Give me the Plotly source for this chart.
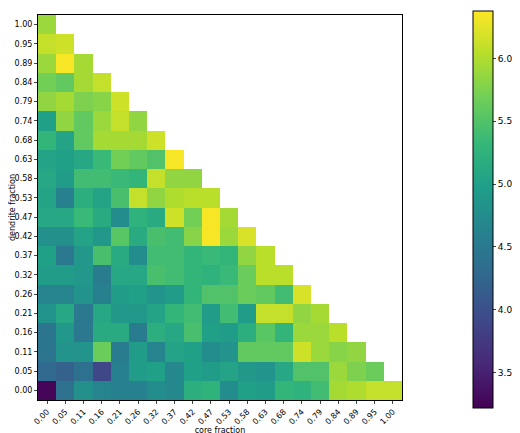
import plotly.graph_objects as go

labels = ["0.00","0.05","0.11","0.16","0.21","0.26","0.32","0.37","0.42","0.47",
          "0.53","0.58","0.63","0.68","0.74","0.79","0.84","0.89","0.95","1.00"]

# rows from dendrite fraction 0.00 upward; each row lists core fraction 0.00...
row_000 = [3.25,4.4,4.8,4.65,4.6,4.6,4.75,4.7,5.2,5.25,4.75,5.0,4.95,5.3,5.25,5.4,5.95,6.0,6.1,6.1]
row_005 = [4.3,4.2,4.4,3.9,4.6,4.95,5.0,4.7,5.0,4.95,5.05,4.9,4.85,5.1,5.5,5.5,5.9,5.75,5.65]
row_011 = [4.45,4.85,4.85,5.65,4.55,4.95,4.65,5.05,5.0,4.75,4.85,5.6,5.6,5.6,6.15,5.9,5.8,5.85]
row_016 = [4.45,4.9,4.5,5.15,5.15,4.55,5.2,5.1,5.45,5.0,4.95,5.2,5.55,5.3,5.9,5.9,6.05]
row_021 = [4.85,5.1,4.5,5.1,4.9,4.9,5.05,5.3,5.4,4.95,5.4,4.95,6.1,6.1,5.85,5.95]
row_026 = [4.65,4.65,4.85,4.6,4.95,5.0,4.85,4.95,5.3,5.5,5.5,5.65,5.6,5.4,6.2]
row_032 = [4.95,4.95,4.9,4.55,5.1,5.1,5.45,5.4,5.3,5.25,5.35,5.65,6.05,6.05]
row_037 = [5.0,4.5,4.9,5.45,5.15,4.75,5.4,5.4,5.3,5.35,5.3,5.85,6.05]
row_042 = [4.8,4.8,5.05,4.9,5.55,5.15,5.45,5.4,5.8,6.35,5.9,6.2]
row_047 = [5.1,5.1,5.35,5.15,4.75,5.25,5.15,6.15,5.7,6.35,5.95]
row_053 = [5.05,4.6,5.2,5.05,5.45,6.1,5.85,6.0,6.05,6.05]
row_058 = [5.1,4.95,5.4,5.4,5.35,5.3,6.1,5.85,5.85]
row_063 = [5.05,5.0,5.1,5.35,5.7,5.6,5.5,6.35]
row_068 = [5.3,5.05,5.6,5.95,5.95,5.95,6.15]
row_074 = [5.0,5.85,5.6,5.9,6.1,5.85]
row_079 = [5.85,5.95,5.75,5.8,6.15]
row_084 = [5.7,5.6,5.95,6.1]
row_089 = [5.9,6.35,5.95]
row_095 = [6.1,6.15]
row_100 = [5.9]

rows = [row_000,row_005,row_011,row_016,row_021,row_026,row_032,row_037,row_042,row_047,
        row_053,row_058,row_063,row_068,row_074,row_079,row_084,row_089,row_095,row_100]
z = [r + [None]*(20-len(r)) for r in rows]

fig = go.Figure(go.Heatmap(
    z=z, x=labels, y=labels, colorscale="Viridis", zmin=3.22, zmax=6.38,
    colorbar=dict(title=dict(text="forecast_horizon λt", side="right", font=dict(size=9)),
                  x=1.196, xanchor="left", y=-0.02, yanchor="bottom", len=1.03, lenmode="fraction",
                  ypad=0, xpad=0,
                  thickness=20, outlinewidth=1, outlinecolor="black",
                  tickvals=[3.5,4.0,4.5,5.0,5.5,6.0], ticktext=["3.5","4.0","4.5","5.0","5.5","6.0"],
                  ticks="outside", ticklen=3, tickfont=dict(size=9))))

fig.update_layout(
    width=520, height=433, margin=dict(l=30, r=122, t=3, b=41),
    plot_bgcolor="white", paper_bgcolor="white",
    font=dict(family="DejaVu Sans", color="black", size=8),
    xaxis=dict(title=dict(text="core fraction", font=dict(size=8), standoff=0), tickangle=-45,
               showline=True, mirror=True, linecolor="black", ticks="outside", ticklen=3,
               showgrid=False, type="category", automargin=False),
    yaxis=dict(title=dict(text="dendrite fraction", font=dict(size=8), standoff=0),
               showline=True, mirror=True, linecolor="black", ticks="outside", ticklen=3,
               showgrid=False, type="category", automargin=False),
)
fig.write_html("out.html")
